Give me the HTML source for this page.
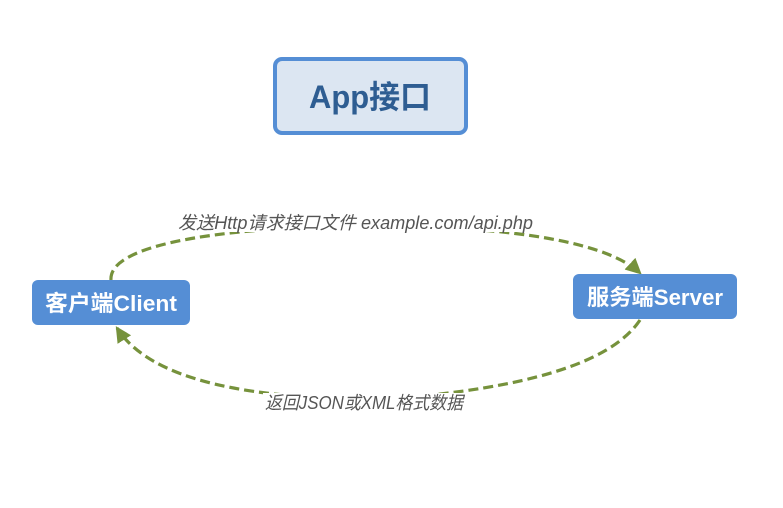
<!DOCTYPE html>
<html><head><meta charset="utf-8"><style>
html,body{margin:0;padding:0;background:#fff;width:783px;height:508px;overflow:hidden}
</style></head><body>
<svg width="783" height="508" viewBox="0 0 783 508" xmlns="http://www.w3.org/2000/svg">
<defs>
<marker id="ah" markerWidth="16" markerHeight="16" refX="12" refY="7" orient="auto" markerUnits="userSpaceOnUse" viewBox="0 0 14 14">
<path d="M0,0 L14,7 L0,14 z" fill="#76923c"/>
</marker>
</defs>
<rect x="275" y="59" width="191" height="74" rx="7" fill="#dce6f2" stroke="#558ed5" stroke-width="4"/>
<text x="370" y="108" text-anchor="middle" font-family="Liberation Sans, Noto Sans CJK SC, sans-serif" font-weight="bold" font-size="32" textLength="122" lengthAdjust="spacingAndGlyphs" fill="#2e5d92">App接口</text>

<path d="M111,280 C108,240 250,226 370,226 C480,226 600,236 640,273" fill="none" stroke="#76923c" stroke-width="3.2" stroke-dasharray="10,5" marker-end="url(#ah)"/>
<path d="M640,320 C610,365 520,388 400,398 C250,402 150,380 117,328" fill="none" stroke="#76923c" stroke-width="3.2" stroke-dasharray="10,5" marker-end="url(#ah)"/>

<rect x="176" y="212" width="360" height="20" fill="#fff"/>
<text x="178" y="229" font-family="Liberation Sans, Noto Sans CJK SC, sans-serif" font-style="italic" font-size="18" textLength="355" lengthAdjust="spacingAndGlyphs" fill="#555">发送Http请求接口文件 example.com/api.php</text>
<rect x="263" y="393" width="202" height="20" fill="#fff"/>
<text x="265" y="409" font-family="Liberation Sans, Noto Sans CJK SC, sans-serif" font-style="italic" font-size="18" textLength="198" lengthAdjust="spacingAndGlyphs" fill="#555">返回JSON或XML格式数据</text>

<rect x="32" y="280" width="158" height="45" rx="6" fill="#558ed5"/>
<text x="45" y="311" font-family="Liberation Sans, Noto Sans CJK SC, sans-serif" font-weight="bold" font-size="22" textLength="132" lengthAdjust="spacingAndGlyphs" fill="#fff">客户端Client</text>
<rect x="573" y="274" width="164" height="45" rx="6" fill="#558ed5"/>
<text x="587" y="305" font-family="Liberation Sans, Noto Sans CJK SC, sans-serif" font-weight="bold" font-size="22" textLength="136" lengthAdjust="spacingAndGlyphs" fill="#fff">服务端Server</text>
</svg>
</body></html>
